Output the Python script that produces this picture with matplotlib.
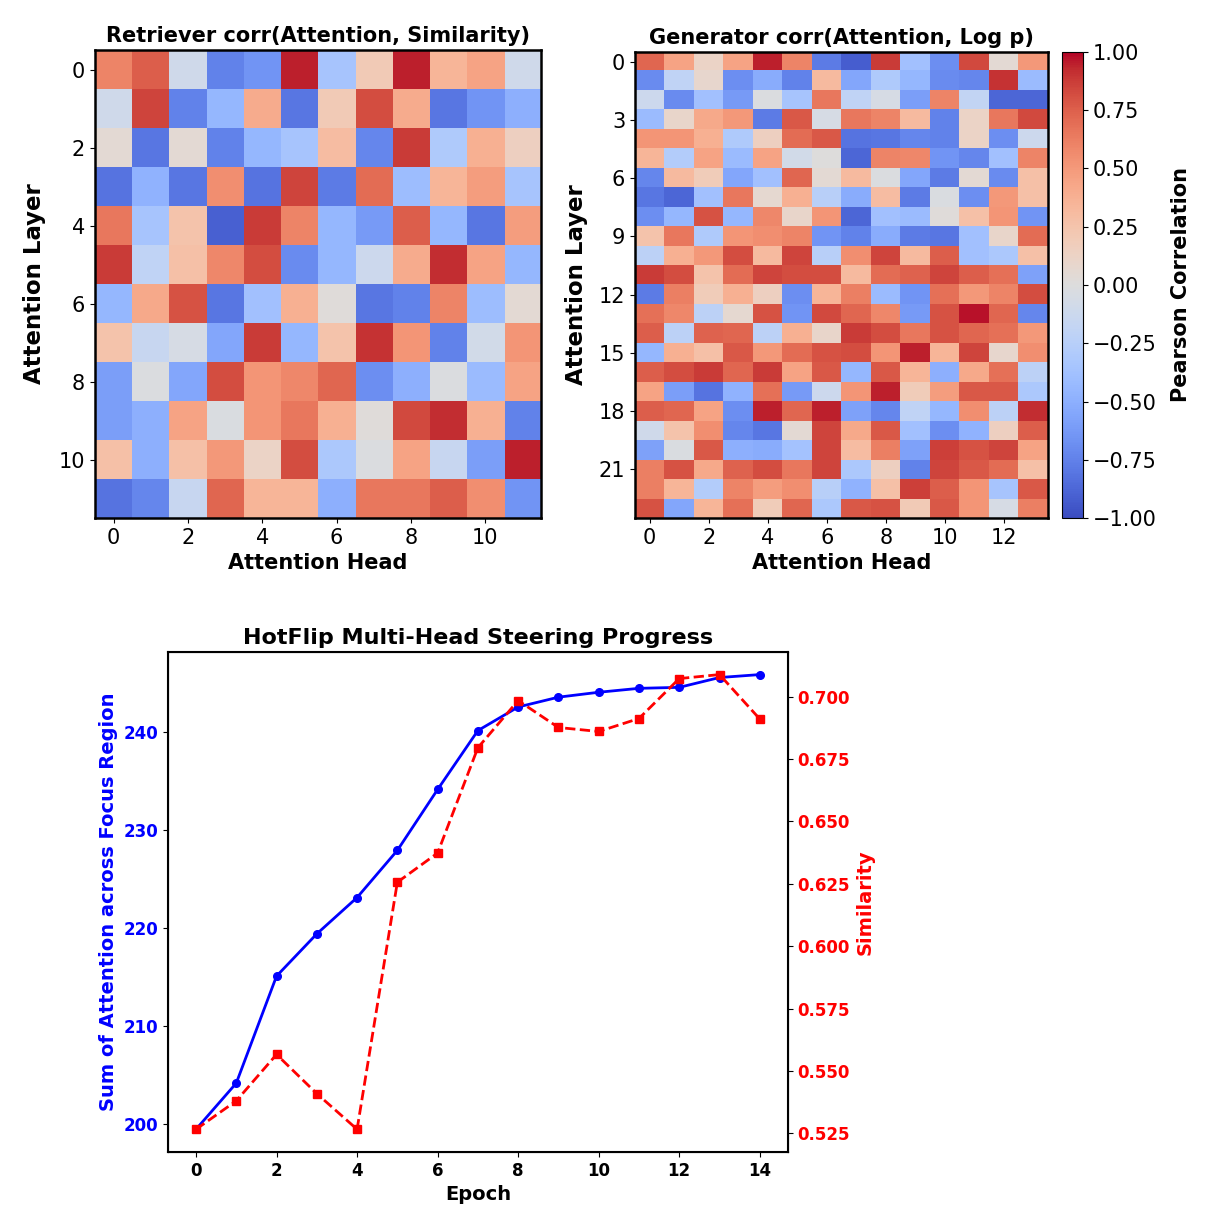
import numpy as np
import matplotlib
matplotlib.use('Agg')
import matplotlib.pyplot as plt

# Retriever correlation, 12 layers x 12 heads
retriever_corr = np.array([
    [0.60, 0.75, -0.10, -0.75, -0.65, 0.95, -0.35, 0.20, 0.95, 0.35, 0.45, -0.10],
    [-0.10, 0.85, -0.75, -0.45, 0.40, -0.80, 0.20, 0.82, 0.40, -0.80, -0.65, -0.50],
    [0.05, -0.80, 0.05, -0.75, -0.45, -0.35, 0.30, -0.72, 0.88, -0.30, 0.38, 0.15],
    [-0.82, -0.48, -0.80, 0.55, -0.82, 0.85, -0.78, 0.70, -0.40, 0.35, 0.48, -0.35],
    [0.65, -0.35, 0.25, -0.90, 0.88, 0.60, -0.45, -0.62, 0.75, -0.45, -0.80, 0.48],
    [0.88, -0.20, 0.28, 0.58, 0.82, -0.70, -0.45, -0.12, 0.40, 0.92, 0.45, -0.45],
    [-0.45, 0.42, 0.80, -0.80, -0.38, 0.38, 0.02, -0.80, -0.75, 0.60, -0.40, 0.05],
    [0.25, -0.15, -0.05, -0.55, 0.88, -0.45, 0.25, 0.90, 0.52, -0.75, -0.08, 0.52],
    [-0.60, -0.02, -0.55, 0.82, 0.52, 0.58, 0.72, -0.68, -0.50, -0.02, -0.42, 0.45],
    [-0.60, -0.50, 0.45, -0.03, 0.52, 0.65, 0.38, 0.02, 0.83, 0.92, 0.38, -0.75],
    [0.28, -0.50, 0.28, 0.50, 0.12, 0.82, -0.32, -0.02, 0.45, -0.15, -0.60, 0.95],
    [-0.82, -0.72, -0.15, 0.72, 0.35, 0.35, -0.50, 0.65, 0.65, 0.75, 0.55, -0.65],
])

# Generator correlation, 24 layers x 14 heads
generator_corr = np.array([
    [0.72, 0.45, 0.12, 0.45, 0.95, 0.60, -0.78, -0.92, 0.88, -0.38, -0.68, 0.83, 0.05, 0.50],
    [-0.70, -0.20, 0.08, -0.68, -0.52, -0.75, 0.32, -0.55, -0.30, -0.45, -0.70, -0.72, 0.90, -0.42],
    [-0.12, -0.70, -0.38, -0.62, -0.02, -0.35, 0.65, -0.20, -0.05, -0.60, 0.60, -0.18, -0.88, -0.88],
    [-0.42, 0.10, 0.42, 0.50, -0.78, 0.78, -0.05, 0.65, 0.60, 0.32, -0.75, 0.12, 0.65, 0.83],
    [0.52, 0.52, 0.38, -0.30, 0.15, 0.70, 0.78, -0.82, -0.80, -0.72, -0.75, 0.12, -0.68, -0.12],
    [0.35, -0.28, 0.45, -0.42, 0.45, -0.08, 0.00, -0.88, 0.60, 0.58, -0.65, -0.72, -0.38, 0.60],
    [-0.72, 0.32, 0.18, -0.55, -0.38, 0.72, 0.05, 0.32, -0.02, -0.55, -0.78, 0.05, -0.70, 0.28],
    [-0.80, -0.88, -0.38, 0.65, 0.07, 0.38, -0.25, -0.52, 0.30, -0.78, -0.03, -0.68, 0.50, 0.28],
    [-0.68, -0.45, 0.80, -0.45, 0.58, 0.10, 0.52, -0.88, -0.38, -0.42, 0.02, 0.28, 0.52, -0.65],
    [0.25, 0.65, -0.30, 0.52, 0.55, 0.60, -0.65, -0.75, -0.52, -0.78, -0.80, -0.38, 0.10, 0.70],
    [-0.22, 0.38, 0.50, 0.82, 0.32, 0.85, -0.25, 0.55, 0.85, 0.32, 0.75, -0.38, -0.32, 0.28],
    [0.88, 0.82, 0.25, 0.70, 0.85, 0.82, 0.82, 0.32, 0.70, 0.74, 0.85, 0.75, 0.68, -0.58],
    [-0.78, 0.62, 0.18, 0.38, 0.15, -0.68, 0.35, 0.62, -0.42, -0.65, 0.68, 0.50, 0.60, 0.82],
    [0.68, 0.58, -0.22, 0.07, 0.80, -0.65, 0.83, 0.72, 0.58, -0.62, 0.80, 0.97, 0.72, -0.72],
    [0.75, -0.22, 0.74, 0.72, -0.22, 0.38, 0.10, 0.88, 0.82, 0.65, 0.80, 0.72, 0.68, 0.50],
    [-0.45, 0.38, 0.28, 0.78, 0.50, 0.70, 0.80, 0.82, 0.52, 0.95, 0.35, 0.85, 0.08, 0.55],
    [0.75, 0.82, 0.88, 0.72, 0.88, 0.45, 0.78, -0.45, 0.78, 0.35, -0.50, 0.42, 0.68, -0.22],
    [0.45, -0.60, -0.82, -0.48, 0.68, -0.62, -0.12, 0.52, 0.95, 0.18, 0.48, 0.78, 0.78, -0.32],
    [0.75, 0.72, 0.45, -0.68, 0.95, 0.72, 0.95, -0.58, -0.72, -0.20, -0.45, 0.55, -0.22, 0.92],
    [-0.10, 0.25, 0.55, -0.72, -0.80, 0.05, 0.85, 0.42, 0.78, -0.38, -0.68, -0.48, 0.15, 0.75],
    [-0.58, -0.03, 0.78, -0.50, -0.52, -0.36, 0.85, 0.30, 0.62, -0.58, 0.86, 0.80, 0.85, 0.45],
    [0.62, 0.80, 0.42, 0.74, 0.82, 0.65, 0.85, -0.32, 0.15, -0.75, 0.85, 0.78, 0.70, 0.28],
    [0.62, 0.35, -0.28, 0.60, 0.48, 0.55, -0.25, -0.48, 0.28, 0.86, 0.75, 0.52, -0.35, 0.78],
    [0.80, -0.55, 0.35, 0.68, 0.18, 0.72, -0.32, 0.78, 0.80, 0.20, 0.78, 0.52, -0.05, 0.62],
])

# HotFlip steering progress
epochs = list(range(15))
attention_sum = [199.5, 204.2, 215.1, 219.4, 223.1, 227.9, 234.1, 240.1,
                 242.5, 243.5, 244.0, 244.4, 244.5, 245.5, 245.8]
similarity = [0.5266, 0.538, 0.5566, 0.5409, 0.5266, 0.6256, 0.6373, 0.6795,
              0.6984, 0.6876, 0.686, 0.6912, 0.7072, 0.7088, 0.691]

fig = plt.figure(figsize=(12.16, 12.2), dpi=100)

# Retriever heatmap
ax1 = fig.add_axes([0.0781, 0.5754, 0.3668, 0.3836])
ax1.imshow(retriever_corr, cmap='coolwarm', vmin=-1, vmax=1, aspect='auto')
ax1.set_title('Retriever corr(Attention, Similarity)', fontsize=15, fontweight='bold')
ax1.set_xlabel('Attention Head', fontsize=15, fontweight='bold')
ax1.set_ylabel('Attention Layer', fontsize=16.5, fontweight='bold', labelpad=9)
ax1.set_xticks(range(0, 12, 2))
ax1.set_yticks(range(0, 12, 2))
ax1.tick_params(labelsize=15)
for s in ax1.spines.values():
    s.set_linewidth(1.8)

# Generator heatmap
ax2 = fig.add_axes([0.5222, 0.5754, 0.3396, 0.382])
im = ax2.imshow(generator_corr, cmap='coolwarm', vmin=-1, vmax=1, aspect='auto')
ax2.set_title('Generator corr(Attention, Log p)', fontsize=15, fontweight='bold')
ax2.set_xlabel('Attention Head', fontsize=15, fontweight='bold')
ax2.set_ylabel('Attention Layer', fontsize=16.5, fontweight='bold', labelpad=8)
ax2.set_xticks(range(0, 14, 2))
ax2.set_yticks(range(0, 24, 3))
ax2.tick_params(labelsize=15)
for s in ax2.spines.values():
    s.set_linewidth(1.8)

cax = fig.add_axes([0.8734, 0.5754, 0.0173, 0.382])
cb = fig.colorbar(im, cax=cax)
cb.set_ticks(np.arange(-1, 1.01, 0.25))
cb.ax.tick_params(labelsize=15)
cb.set_label('Pearson Correlation', fontsize=15, fontweight='bold', labelpad=10)

# Steering progress
ax3 = fig.add_axes([0.138, 0.0557, 0.51, 0.41])
ax3.plot(epochs, attention_sum, color='blue', marker='o', markersize=5.5, linewidth=2)
ax3.set_xlabel('Epoch', fontsize=14, fontweight='bold')
ax3.set_ylabel('Sum of Attention across Focus Region', fontsize=14,
               fontweight='bold', color='blue')
ax3.set_title('HotFlip Multi-Head Steering Progress', fontsize=16, fontweight='bold')
ax3.set_xticks(range(0, 15, 2))
ax3.tick_params(axis='both', labelsize=12)
ax3.tick_params(axis='y', labelcolor='blue')
for lab in ax3.get_xticklabels() + ax3.get_yticklabels():
    lab.set_fontweight('bold')
for s in ax3.spines.values():
    s.set_linewidth(1.5)

ax4 = ax3.twinx()
ax4.plot(epochs, similarity, color='red', marker='s', markersize=6,
         linewidth=2, linestyle='--')
ax4.set_ylabel('Similarity', fontsize=14, fontweight='bold', color='red')
ax4.tick_params(axis='y', labelsize=12, labelcolor='red')
for lab in ax4.get_yticklabels():
    lab.set_fontweight('bold')

fig.savefig('out.png', dpi=100)
